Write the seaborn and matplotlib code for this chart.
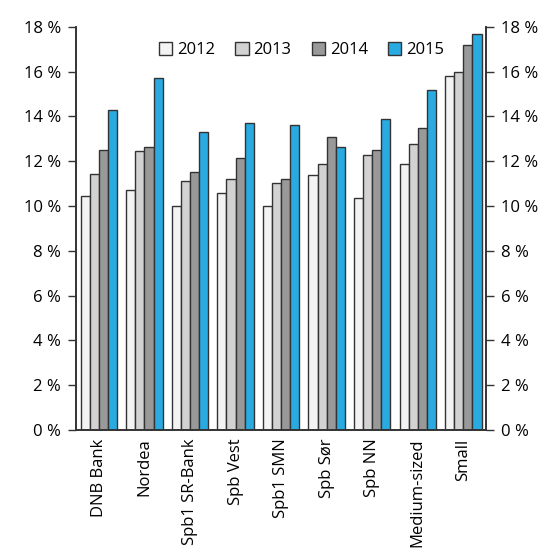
import matplotlib
matplotlib.use("Agg")
import matplotlib.pyplot as plt
import seaborn as sns
import pandas as pd

banks = ["DNB Bank", "Nordea", "Spb1 SR-Bank", "Spb Vest", "Spb1 SMN",
         "Spb Sør", "Spb NN", "Medium-sized", "Small"]
years = ["2012", "2013", "2014", "2015"]
v2012 = [10.45, 10.7, 10.0, 10.6, 10.0, 11.4, 10.35, 11.9, 15.8]
v2013 = [11.43, 12.45, 11.1, 11.2, 11.05, 11.9, 12.3, 12.75, 16.0]
v2014 = [12.5, 12.65, 11.5, 12.15, 11.2, 13.1, 12.5, 13.5, 17.2]
v2015 = [14.3, 15.7, 13.3, 13.7, 13.6, 12.65, 13.9, 15.2, 17.7]
colors = ["#f3f3f3", "#d2d2d2", "#999999", "#29abe2"]

df = pd.DataFrame({"bank": banks * 4,
                   "year": sum([[y] * len(banks) for y in years], []),
                   "value": v2012 + v2013 + v2014 + v2015})

sns.set_style("white")
plt.rcParams["font.family"] = ["Open Sans", "DejaVu Sans"]
plt.rcParams["text.color"] = "black"
plt.rcParams["xtick.color"] = "black"
plt.rcParams["ytick.color"] = "black"

fig = plt.figure(figsize=(5.6, 5.6), dpi=100)
ax = fig.add_axes([0.136, 0.232, 0.732, 0.72])

sns.barplot(data=df, x="bank", y="value", hue="year", palette=colors,
            saturation=1, width=0.8, edgecolor="#333333", linewidth=1.0, ax=ax)

ax.set_ylim(0, 18)
ax.set_xlim(-0.5, len(banks) - 0.5)
yt = list(range(0, 19, 2))
ax.set_yticks(yt)
ax.set_yticklabels([f"{t} %" for t in yt], fontsize=12)
ax.set_xticks(range(len(banks)))
ax.set_xticklabels(banks, rotation=90, fontsize=12)
ax.set_xlabel("")
ax.set_ylabel("")
ax.tick_params(axis="x", length=0, pad=6)
ax.tick_params(axis="y", length=6, width=1, color="#333333", direction="out", pad=5)

ax2 = ax.twinx()
ax2.set_ylim(0, 18)
ax2.set_yticks(yt)
ax2.set_yticklabels([f"{t} %" for t in yt], fontsize=12)
ax2.tick_params(axis="y", length=6, width=1, color="#333333", direction="out", pad=5)

for a in (ax, ax2):
    a.spines["top"].set_visible(False)
    for s in ["left", "right", "bottom"]:
        a.spines[s].set_color("#333333")
        a.spines[s].set_linewidth(1.2)

ax.legend(loc="upper center", bbox_to_anchor=(0.55, 1.0), ncol=4, frameon=False,
          fontsize=12, handlelength=0.8, handleheight=0.8, handletextpad=0.3,
          columnspacing=1.2)

fig.savefig("out.png", dpi=100)
